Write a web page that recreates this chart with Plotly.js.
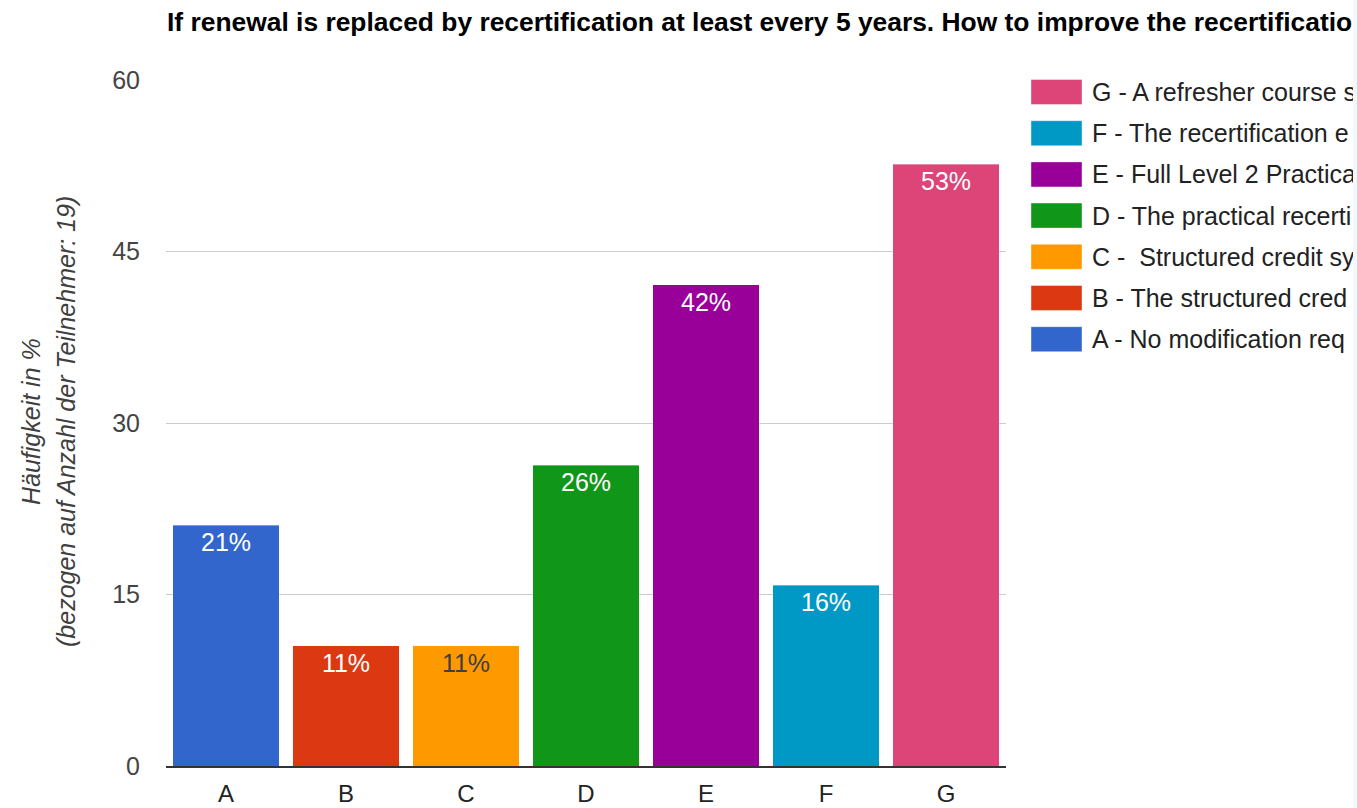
<!DOCTYPE html>
<html>
<head>
<meta charset="utf-8">
<script src="https://cdn.plot.ly/plotly-3.0.1.min.js"></script>
<style>
  html, body { margin: 0; padding: 0; background: #fff; overflow: hidden; }
  #wrap { position: absolute; left: 0; top: 0; width: 1353px; height: 808px; overflow: hidden; }
  #strip { position: absolute; left: 1353px; top: 0; width: 4px; height: 808px; background: #f3f8fd; }
  #chart { width: 1800px; height: 808px; }
</style>
</head>
<body>
<div id="wrap"><div id="chart"></div></div>
<div id="strip"></div>
<script>
// ---- data ----
const categories = ['A', 'B', 'C', 'D', 'E', 'F', 'G'];
const seriesNames = [
  'A - No modification req',
  'B - The structured cred',
  'C -  Structured credit sy',
  'D - The practical recerti',
  'E - Full Level 2 Practica',
  'F - The recertification e',
  'G - A refresher course s'
];
const values = [21.05, 10.53, 10.53, 26.32, 42.11, 15.79, 52.63];
const labels = ['21%', '11%', '11%', '26%', '42%', '16%', '53%'];
const yTicks = [0, 15, 30, 45, 60];
const titleText = 'If renewal is replaced by recertification at least every 5 years. How to improve the recertification';
const yTitleLines = ['Häufigkeit in %', '(bezogen auf Anzahl der Teilnehmer: 19)'];

// ---- style ----
const colors = ['#3366cc', '#dc3912', '#ff9900', '#109618', '#990099', '#0099c6', '#dd4477'];
const labelColors = ['#ffffff', '#ffffff', '#404040', '#ffffff', '#ffffff', '#ffffff', '#ffffff'];
const FONT = 'Liberation Sans, Arial, sans-serif';

const W = 1800, H = 808;
const M = { l: 166, r: W - 1006, t: 80, b: 42 };
const plotW = W - M.l - M.r;
const plotH = H - M.t - M.b;
const px2x = px => (px - M.l) / plotW;
const py2y = py => 1 - (py - M.t) / plotH;

const traces = categories.map((c, i) => ({
  type: 'bar',
  name: seriesNames[i],
  x: [c],
  y: [values[i]],
  text: [labels[i]],
  textposition: 'inside',
  insidetextanchor: 'end',
  textangle: 0,
  textfont: { family: FONT, size: 25, color: labelColors[i] },
  marker: { color: colors[i], line: { color: 'rgba(255,255,255,0.35)', width: 1 } },
  hoverinfo: 'x+y'
}));

const shapes = [];
const annotations = [];
// custom legend (reversed order: G on top)
for (let k = 0; k < categories.length; k++) {
  const i = categories.length - 1 - k;
  const cy = 92 + k * 41.2;
  shapes.push({
    type: 'rect', xref: 'paper', yref: 'paper',
    x0: px2x(1031), x1: px2x(1082), y0: py2y(cy + 12.5), y1: py2y(cy - 12.5),
    fillcolor: colors[i], line: { color: 'rgba(255,255,255,0.4)', width: 1 }
  });
  annotations.push({
    xref: 'paper', yref: 'paper', x: px2x(1090), y: py2y(cy),
    xanchor: 'left', yanchor: 'middle', showarrow: false,
    text: seriesNames[i], font: { family: FONT, size: 25, color: '#222222' }
  });
}
// y-axis title (two lines)
annotations.push({
  xref: 'paper', yref: 'paper', x: px2x(31), y: py2y(422),
  xanchor: 'center', yanchor: 'middle', showarrow: false, textangle: -90,
  text: '<i>' + yTitleLines[0] + '</i>', font: { family: FONT, size: 25, color: '#404040' }
});
annotations.push({
  xref: 'paper', yref: 'paper', x: px2x(66), y: py2y(422),
  xanchor: 'center', yanchor: 'middle', showarrow: false, textangle: -90,
  text: '<i>' + yTitleLines[1] + '</i>', font: { family: FONT, size: 25, color: '#404040' }
});

const layout = {
  width: W, height: H,
  margin: M,
  paper_bgcolor: '#ffffff', plot_bgcolor: '#ffffff',
  barmode: 'stack',
  bargap: 0.11,
  showlegend: false,
  title: {
    text: '<b>' + titleText + '</b>',
    xref: 'paper', x: px2x(167), xanchor: 'left',
    yref: 'container', y: 1 - 22 / H, yanchor: 'middle',
    font: { family: FONT, size: 26.4, color: '#000000' }
  },
  xaxis: {
    type: 'category',
    categoryarray: categories,
    showgrid: false,
    showline: true, linecolor: '#333333', linewidth: 1.5,
    ticks: '',
    tickfont: { family: FONT, size: 24, color: '#222222' },
    ticklabelstandoff: 6,
    zeroline: false
  },
  yaxis: {
    range: [0, 60],
    tickvals: yTicks,
    ticktext: yTicks.map(String),
    showgrid: true, gridcolor: '#cccccc', gridwidth: 1,
    zeroline: false,
    showline: false,
    ticks: '',
    tickfont: { family: FONT, size: 25, color: '#444444' },
    ticklabelstandoff: 25
  },
  shapes: shapes,
  annotations: annotations
};

Plotly.newPlot('chart', traces, layout, { displayModeBar: false, staticPlot: true });
</script>
</body>
</html>
